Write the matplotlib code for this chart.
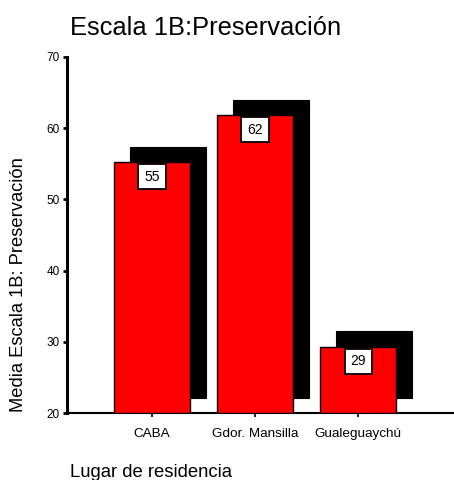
import matplotlib
matplotlib.use("Agg")
import matplotlib.pyplot as plt
import matplotlib.transforms as mtransforms

# Mean score per place of residence
lugares = ["CABA", "Gdor. Mansilla", "Gualeguaychú"]
medias = [55.25, 61.85, 29.27]
etiquetas = ["55", "62", "29"]
yticks = [20, 30, 40, 50, 60, 70]

plt.rcParams["font.family"] = ["Liberation Sans", "DejaVu Sans"]

fig = plt.figure(figsize=(4.54, 4.80), dpi=100)
ax = fig.add_axes([67 / 454, 67 / 480, 1 - 67 / 454, 356 / 480])

x = list(range(len(lugares)))
width = 0.74
base = 20

# drop shadow: same bars shifted right and up in screen pixels
shift = mtransforms.ScaledTranslation(16.0 / 100, 15.5 / 100, fig.dpi_scale_trans)
ax.bar(x, [m - base for m in medias], width=width, bottom=base,
       color="black", edgecolor="black", linewidth=0.8,
       transform=ax.transData + shift, zorder=2, clip_on=False)
ax.bar(x, [m - base for m in medias], width=width, bottom=base,
       color="#ff0000", edgecolor="black", linewidth=1.0, zorder=3)

for xi, m, lab in zip(x, medias, etiquetas):
    ax.annotate(lab, xy=(xi, m), xytext=(0, -14.5), textcoords="offset pixels",
                ha="center", va="center", fontsize=10, zorder=5,
                bbox=dict(boxstyle="square,pad=0.42", fc="white", ec="black", lw=1.3))

ax.set_xlim(-0.825, 2.93)
ax.set_ylim(20, 70)
ax.set_yticks(yticks)
ax.set_xticks(x)
ax.set_xticklabels(lugares, fontsize=9.7)
ax.tick_params(axis="y", direction="out", length=3, width=2, labelsize=8.5, pad=2)
ax.tick_params(axis="x", direction="out", length=3, width=1.2, pad=8)

ax.spines["top"].set_visible(False)
ax.spines["right"].set_visible(False)
ax.spines["left"].set_linewidth(2.2)
ax.spines["bottom"].set_linewidth(1.5)

fig.text(70 / 454, 1 - 35 / 480, "Escala 1B:Preservación", fontsize=18.4,
         ha="left", va="baseline")
fig.text(19 / 454, 1 - 285 / 480, "Media Escala 1B: Preservación", fontsize=13.2,
         rotation=90, ha="center", va="center")
fig.text(70 / 454, 1 - 477 / 480, "Lugar de residencia", fontsize=13.3,
         ha="left", va="baseline")

fig.savefig("out.png", dpi=100)
